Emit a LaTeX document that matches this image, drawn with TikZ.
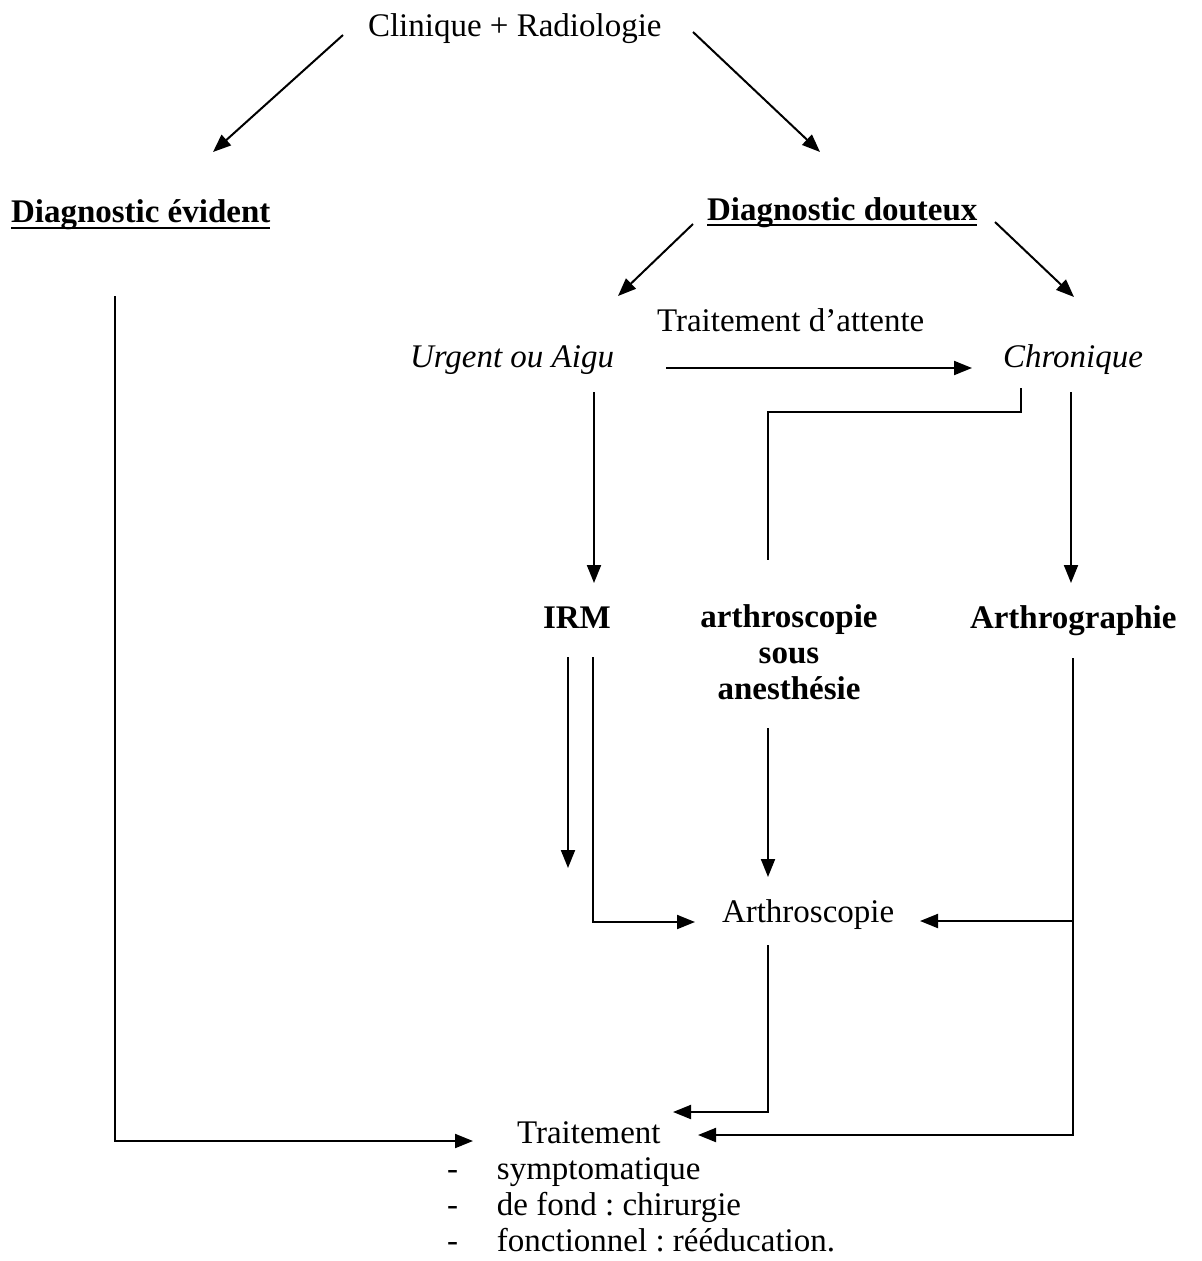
\documentclass[tikz,border=0pt]{standalone}
\usepackage{fontspec}
\setmainfont{Liberation Serif}
\usetikzlibrary{arrows.meta}
\frenchspacing
\tikzset{
  txt/.style={inner sep=0pt, outer sep=0pt, font=\fontsize{33}{36}\selectfont},
  btxt/.style={txt, font=\fontsize{33}{36}\selectfont\bfseries},
  itxt/.style={txt, font=\fontsize{33}{36}\selectfont\itshape},
  conn/.style={line width=2pt, line join=miter},
  arr/.style={conn, -{Triangle[length=18pt,width=14pt]}},
  uline/.style={line width=2.6pt}
}
\begin{document}
\begin{tikzpicture}[x=1pt,y=-1pt]
\useasboundingbox (0,0) rectangle (1202,1261);
% text nodes
\node[txt, anchor=base west] (clin) at (368,36) {Clinique + Radiologie};
\node[btxt, anchor=base west] (ev) at (11,222) {Diagnostic évident};
\node[btxt, anchor=base west] (dd) at (707,220) {Diagnostic douteux};
\node[txt, anchor=base west] (att) at (657,331) {Traitement d’attente};
\node[itxt, anchor=base west] (urg) at (410,367) {Urgent ou Aigu};
\node[itxt, anchor=base west] (chr) at (1003,367) {Chronique};
\node[btxt, anchor=base west] (irm) at (543,628) {IRM};
\node[btxt, anchor=north, align=center] (asa) at (789,605) {arthroscopie\\sous\\anesthésie};
\node[btxt, anchor=base west] (arg) at (970,628) {Arthrographie};
\node[txt, anchor=base west] (arc) at (722,922) {Arthroscopie};
\node[txt, anchor=base west] (trt) at (517,1143) {Traitement};
\node[txt, anchor=base west] (lst) at (447,1179) {\begin{tabular}[t]{@{}l@{\hspace{39pt}}l@{}}
-&symptomatique\\
-&de fond : chirurgie\\
-&fonctionnel : rééducation.
\end{tabular}};
% underlines
\draw[uline] ([yshift=-6pt]ev.base west) -- ([yshift=-6pt]ev.base east);
\draw[uline] ([yshift=-5pt]dd.base west) -- ([yshift=-5pt]dd.base east);
% connector end points
\coordinate (c1a) at (343,35);  \coordinate (c1b) at (213,152);
\coordinate (c2a) at (693,32);  \coordinate (c2b) at (820,152);
\coordinate (d1a) at (693,224); \coordinate (d1b) at (618,296);
\coordinate (d2a) at (995,222); \coordinate (d2b) at (1074,297);
\coordinate (ua) at (666,368);  \coordinate (ub) at (972,368);
\coordinate (u1) at (594,392);  \coordinate (u2) at (594,583);
\coordinate (ch1) at (1021,388); \coordinate (ch2) at (1021,412);
\coordinate (ch3) at (768,412);  \coordinate (ch4) at (768,560);
\coordinate (cd1) at (1071,392); \coordinate (cd2) at (1071,583);
\coordinate (i1a) at (568,657); \coordinate (i1b) at (568,868);
\coordinate (i2a) at (593,657); \coordinate (i2b) at (593,922); \coordinate (i2c) at (695,922);
\coordinate (s1) at (768,728); \coordinate (s2) at (768,877);
\coordinate (g1) at (1073,658); \coordinate (g2) at (1073,1135); \coordinate (g3) at (698,1135);
\coordinate (gb) at (1073,921); \coordinate (gc) at (920,921);
\coordinate (a1) at (768,945); \coordinate (a2) at (768,1112); \coordinate (a3) at (673,1112);
\coordinate (e1) at (115,296); \coordinate (e2) at (115,1141); \coordinate (e3) at (473,1141);
% connectors
\draw[arr] (c1a) -- (c1b);
\draw[arr] (c2a) -- (c2b);
\draw[arr] (d1a) -- (d1b);
\draw[arr] (d2a) -- (d2b);
\draw[arr] (ua) -- (ub);
\draw[arr] (u1) -- (u2);
\draw[conn] (ch1) -- (ch2) -- (ch3) -- (ch4);
\draw[arr] (cd1) -- (cd2);
\draw[arr] (i1a) -- (i1b);
\draw[arr] (i2a) -- (i2b) -- (i2c);
\draw[arr] (s1) -- (s2);
\draw[arr] (g1) -- (g2) -- (g3);
\draw[arr] (gb) -- (gc);
\draw[arr] (a1) -- (a2) -- (a3);
\draw[arr] (e1) -- (e2) -- (e3);
\end{tikzpicture}
\end{document}
